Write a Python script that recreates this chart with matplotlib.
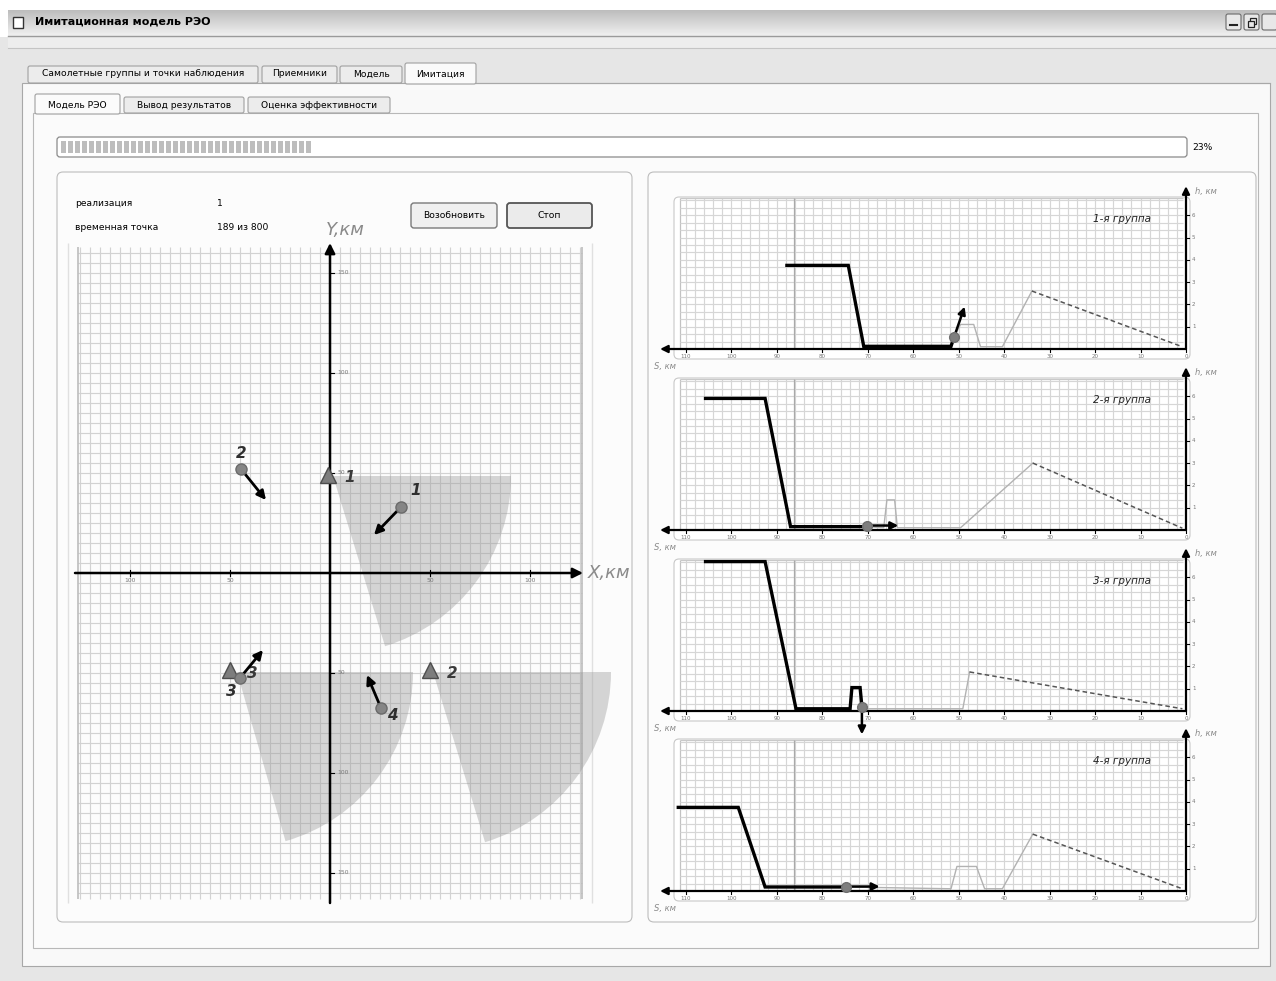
import numpy as np
import matplotlib
matplotlib.use("Agg")
import matplotlib.pyplot as plt
from matplotlib.patches import Rectangle, FancyBboxPatch, Wedge

plt.rcParams['font.family'] = ['DejaVu Sans']

# ---- data ----
progress_pct = 23
realization = 1
time_point = 189
time_total = 800

# observation points (triangles) on the X-Y map, km
station_x = [-1, 50, -50]
station_y = [49, -48.5, -48.5]
station_lbl = ["1", "2", "3"]
# receiver coverage sectors (centre, radius, angles)
sector_x = [1.5, 51.5, -46.5]
sector_y = [48.5, -49.5, -49.5]
sector_r = [89, 89, 88]
sector_a1 = [-73, -73, -74]
sector_a2 = [0, 0, 0]

# aircraft groups: current position and velocity-arrow tip, km
group_x = [35.5, -44.5, -45, 25.5]
group_y = [33, 52, -52.5, -67.5]
group_tx = [22, -32, -33.5, 18.5]
group_ty = [19, 36.5, -38.5, -51]
group_lbl = ["1", "2", "3", "4"]
group_lbl_x = [43, -44.5, -49.5, 31]
group_lbl_y = [41, 60, -59.5, -71]

# vertical profiles h(S) for each group
profile_titles = ["1-я группа", "2-я группа", "3-я группа", "4-я группа"]
past_s = [[87.8, 74.3, 70.9, 51.7, 51.0],
          [105.7, 92.6, 87.0, 70.2],
          [105.7, 92.6, 85.8, 73.9, 73.5, 71.7, 71.3],
          [111.7, 98.5, 92.6, 74.8]]
past_h = [[3.75, 3.75, 0.12, 0.12, 0.55],
          [5.9, 5.9, 0.15, 0.15],
          [6.7, 6.7, 0.1, 0.1, 1.05, 1.05, 0.2],
          [3.75, 3.75, 0.18, 0.18]]
plan_s = [[51.0, 49.6, 46.7, 45.2, 40.4, 33.9],
          [70.2, 66.5, 65.8, 64.1, 63.5, 49.6, 33.7],
          [71.3, 49.1, 47.6],
          [74.8, 51.7, 50.4, 46.1, 44.3, 40.4, 33.7]]
plan_h = [[0.55, 1.1, 1.1, 0.1, 0.1, 2.6],
          [0.15, 0.1, 1.35, 1.35, 0.1, 0.1, 3.0],
          [0.1, 0.1, 1.75],
          [0.18, 0.1, 1.1, 1.1, 0.1, 0.1, 2.55]]
desc_end_s = [0.8, 0.8, 0.8, 0.8]
desc_end_h = [0.1, 0.08, 0.1, 0.1]
cur_s = [51.0, 70.2, 71.3, 74.8]
cur_h = [0.55, 0.2, 0.2, 0.2]
vec_s = [48.7, 63.3, 71.3, 67.4]
vec_h = [1.9, 0.2, -1.05, 0.2]
ref_s = 86.3

# ---- figure and pixel-space background ----
W, H = 1276, 981
fig = plt.figure(figsize=(W / 100, H / 100), dpi=100)
fig.patch.set_facecolor('#e6e6e6')
bg = fig.add_axes([0, 0, 1, 1])
bg.axis('off')


def px_axes(x0, y0, x1, y1):
    a = fig.add_axes([x0 / W, 1 - y1 / H, (x1 - x0) / W, (y1 - y0) / H])
    a.patch.set_alpha(0)
    a.axis('off')
    return a


def rbox(x0, y0, x1, y1, fc, ec, r=3, lw=0.8, z=1):
    bg.add_patch(FancyBboxPatch((x0, y0), x1 - x0, y1 - y0,
                                boxstyle=f"round,pad=0,rounding_size={r}",
                                fc=fc, ec=ec, lw=lw, zorder=z))


def rect(x0, y0, x1, y1, fc, ec='none', lw=0.8, z=1):
    bg.add_patch(Rectangle((x0, y0), x1 - x0, y1 - y0, fc=fc, ec=ec, lw=lw, zorder=z))


rect(0, 0, W, 10, 'white', z=0.5)
rect(0, 0, 8, 37, 'white', z=0.5)
# title bar
bg.imshow(np.linspace(0.74, 0.94, 30).reshape(-1, 1), extent=(8, W, 36, 10),
          cmap='gray', vmin=0, vmax=1, aspect='auto', zorder=1)
bg.plot([8, W], [36, 36], color='#9a9a9a', lw=1, zorder=2)
rect(8, 37, W, 48, '#ededed', z=1)
bg.plot([8, W], [48, 48], color='#c4c4c4', lw=0.8, zorder=2)
rect(13, 17, 23, 28, 'white', '#333333', lw=1, z=2)
bg.text(35, 22, "Имитационная модель РЭО", fontsize=8, fontweight='bold',
        va='center', ha='left', zorder=3)
for bx in (1226, 1244, 1262):
    rbox(bx, 14, bx + 15, 30, '#e8e8e8', '#6a6a6a', r=2, z=3)
bg.plot([1230, 1237], [25, 25], color='#222222', lw=1.5, zorder=4)
rect(1250, 18, 1256, 24, 'none', '#222222', lw=0.9, z=4)
rect(1248, 21, 1254, 27, '#e8e8e8', '#222222', lw=0.9, z=5)

# main tab panel
rect(22, 83, 1270, 966, '#f9f9f9', '#a8a8a8', z=1)
tabs = [(28, 258, "Самолетные группы и точки наблюдения"), (262, 337, "Приемники"),
        (340, 402, "Модель"), (405, 476, "Имитация")]
for x0, x1, t in tabs:
    active = t == "Имитация"
    y0 = 63 if active else 66
    rbox(x0, y0, x1, 84 if active else 83, '#fafafa' if active else '#ececec',
         '#a0a0a0', r=2, z=2 if not active else 3)
    bg.text((x0 + x1) / 2, 74, t, fontsize=6.6, ha='center', va='center', zorder=4)
bg.plot([476, 1270], [83, 83], color='#a8a8a8', lw=0.8, zorder=2)

rect(33, 113, 1258, 948, '#fbfbfb', '#b8b8b8', z=2)
subtabs = [(35, 120, "Модель РЭО"), (124, 244, "Вывод результатов"),
           (248, 390, "Оценка эффективности")]
for x0, x1, t in subtabs:
    active = t == "Модель РЭО"
    rbox(x0, 94 if active else 97, x1, 114 if active else 113,
         '#fbfbfb' if active else '#ececec', '#a0a0a0', r=2, z=3)
    bg.text((x0 + x1) / 2, 105, t, fontsize=6.6, ha='center', va='center', zorder=4)

# progress bar
rbox(57, 137, 1187, 157, 'white', '#8a8a8a', r=3, lw=0.9, z=3)
fill_end = 57 + (1187 - 57) * progress_pct / 100
for bx in np.arange(61, fill_end - 4, 7):
    rect(bx, 141, bx + 5, 153, '#bdbdbd', z=4)
bg.text(1192, 147, f"{progress_pct}%", fontsize=6.6, ha='left', va='center', zorder=4)

# left and right group boxes
rbox(57, 172, 632, 922, '#fcfcfc', '#bdbdbd', r=6, z=3)
rbox(648, 172, 1256, 922, '#fcfcfc', '#bdbdbd', r=6, z=3)

bg.text(75, 203, "реализация", fontsize=6.6, va='center', zorder=4)
bg.text(217, 203, str(realization), fontsize=6.6, va='center', zorder=4)
bg.text(75, 228, "временная точка", fontsize=6.6, va='center', zorder=4)
bg.text(217, 228, f"{time_point} из {time_total}", fontsize=6.6, va='center', zorder=4)
rbox(411, 203, 497, 228, '#f0f0f0', '#7a7a7a', r=3, lw=1, z=4)
bg.text(454, 215.5, "Возобновить", fontsize=6.6, ha='center', va='center', zorder=5)
rbox(507, 203, 592, 228, '#ebebeb', '#555555', r=3, lw=1.3, z=4)
bg.text(549.5, 215.5, "Стоп", fontsize=6.6, ha='center', va='center', zorder=5)

# ---- left: plan view X-Y ----
OX, OY, K = 330, 573, 2.0
axL = px_axes(60, 238, 600, 908)
axL.set_xlim((60 - OX) / K, (600 - OX) / K)
axL.set_ylim((OY - 908) / K, (OY - 238) / K)
gc = '#d2d2d2'
axL.vlines(np.arange(-125, 126, 5), -163, 163, color=gc, lw=0.85, zorder=1)
axL.hlines(np.arange(-160, 161, 5), -126, 126, color=gc, lw=0.85, zorder=1)
axL.vlines([-126, 126], -163, 163, color='#b8b8b8', lw=1.1, zorder=1)
axL.vlines([-131, 131], -165, 165, color='#e0e0e0', lw=1.0, zorder=1)
for cx, cy, r, a1, a2 in zip(sector_x, sector_y, sector_r, sector_a1, sector_a2):
    axL.add_patch(Wedge((cx, cy), r, a1, a2, fc='#9a9a9a', ec='none', alpha=0.4,
                        zorder=2, clip_on=False))
arr = dict(arrowstyle='-|>', color='black', lw=1.8, mutation_scale=15, shrinkA=0, shrinkB=0)
axL.annotate('', xy=(126.5, 0), xytext=(-127.5, 0), arrowprops=arr, zorder=3)
axL.annotate('', xy=(0, 165), xytext=(0, -165), arrowprops=arr, zorder=3)
for v in (-100, -50, 50, 100):
    axL.plot([v, v], [-1.3, 1.3], color='black', lw=0.8, zorder=3)
    axL.text(v, -2.5, str(abs(v)), fontsize=4.3, color='#777777', ha='center', va='top', zorder=3)
for v in (-150, -100, -50, 50, 100, 150):
    axL.plot([0, 2], [v, v], color='black', lw=0.8, zorder=3)
    axL.text(3.5, v, str(abs(v)), fontsize=4.3, color='#777777', ha='left', va='center', zorder=3)
axL.text(129, 0, "X,км", fontsize=13, style='italic', color='#8a8a8a', ha='left', va='center')
axL.text(-2, 167, "Y,км", fontsize=13, style='italic', color='#8a8a8a', ha='left', va='bottom')

axL.plot(station_x, station_y, ls='none', marker='^', ms=11, color='#7d7d7d',
         mec='#4d4d4d', mew=1, zorder=5)
for sx, sy, t in zip(station_x, station_y, station_lbl):
    axL.text(sx + 11, sy - 1.5, t, fontsize=11, style='italic', fontweight='bold',
             color='#3a3a3a', ha='center', va='center', zorder=6)
gar = dict(arrowstyle='-|>', color='black', lw=2.0, mutation_scale=13, shrinkA=0, shrinkB=0)
for gx, gy, tx, ty in zip(group_x, group_y, group_tx, group_ty):
    axL.annotate('', xy=(tx, ty), xytext=(gx, gy), arrowprops=gar, zorder=6)
axL.plot(group_x, group_y, ls='none', marker='o', ms=8, color='#858585', mec='#6a6a6a', zorder=7)
for lx, ly, t in zip(group_lbl_x, group_lbl_y, group_lbl):
    axL.text(lx, ly, t, fontsize=11, style='italic', fontweight='bold',
             color='#2e2e2e', ha='center', va='center', zorder=8)

# ---- right: vertical profiles h(S) ----
S0, KS, KH = 1186, 500 / 110, 22.3
baselines = [349, 530, 711, 891]
for i, b in enumerate(baselines):
    rbox(674, b - 152, 1190, b + 10, 'white', '#c8c8c8', r=5, z=4)
    ax = px_axes(650, b - 166, 1198, b + 24)
    ax.set_xlim((S0 - 650) / KS, (S0 - 1198) / KS)
    ax.set_ylim(-24 / KH, 166 / KH)
    ax.vlines(np.arange(2, 111, 2), 0, 6.75, color='#d6d6d6', lw=0.85, zorder=1)
    ax.vlines([111.3], 0, 6.75, color='#c2c2c2', lw=0.9, zorder=1)
    ax.hlines(np.arange(1, 21) / 3, 0.7, 111.3, color='#d6d6d6', lw=0.85, zorder=1)
    ax.hlines([6.75], 0.7, 111.3, color='#c9c9c9', lw=0.9, zorder=1)
    ax.vlines([ref_s], 0, 6.75, color='#a9a9a9', lw=0.9, zorder=1)

    ar2 = dict(arrowstyle='-|>', color='black', lw=1.6, mutation_scale=11, shrinkA=0, shrinkB=0)
    ax.annotate('', xy=(115.7, 0), xytext=(0, 0), arrowprops=ar2, zorder=3, annotation_clip=False)
    ax.annotate('', xy=(0, 7.3), xytext=(0, 0), arrowprops=ar2, zorder=3, annotation_clip=False)
    for s in range(0, 111, 10):
        ax.plot([s, s], [0, -0.14], color='black', lw=0.8, zorder=3)
        ax.text(s, -0.22, str(s), fontsize=4.0, color='#777777', ha='center', va='top')
    for hv in range(1, 7):
        ax.plot([0, -0.7], [hv, hv], color='black', lw=0.8, zorder=3)
        ax.text(-1.3, hv, str(hv), fontsize=4.0, color='#777777', ha='left', va='center')
    ax.text(-1.9, 7.05, "h, км", fontsize=6, style='italic', color='#8a8a8a', ha='left', va='center')
    ax.text(117.0, -0.8, "S, км", fontsize=6, style='italic', color='#8a8a8a', ha='left', va='center')
    ax.text(14, 5.82, profile_titles[i], fontsize=7.5, style='italic', color='#222222',
            ha='center', va='center')

    ax.plot(plan_s[i], plan_h[i], color='#b2b2b2', lw=1.0, zorder=4)
    ax.plot([plan_s[i][-1], desc_end_s[i]], [plan_h[i][-1], desc_end_h[i]],
            color='#555555', lw=1.1, ls=(0, (3, 2)), zorder=4)
    ax.plot(past_s[i], past_h[i], color='black', lw=2.4, zorder=5, solid_joinstyle='miter')
    ax.annotate('', xy=(vec_s[i], vec_h[i]), xytext=(cur_s[i], cur_h[i]),
                arrowprops=dict(arrowstyle='-|>', color='black', lw=1.8, mutation_scale=11,
                                shrinkA=0, shrinkB=0), zorder=6, annotation_clip=False)
    ax.plot([cur_s[i]], [cur_h[i]], marker='o', ms=7, color='#7f7f7f', mec='#707070', zorder=7)

bg.set_xlim(0, W)
bg.set_ylim(H, 0)
fig.savefig("out.png", dpi=100)
